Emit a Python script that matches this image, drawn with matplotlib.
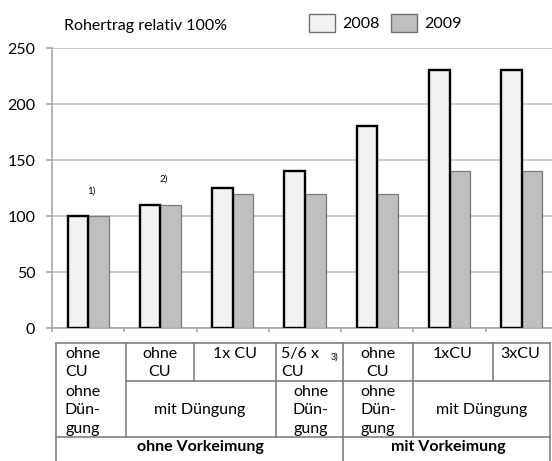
import matplotlib.pyplot as plt
import numpy as np
from matplotlib.patches import Patch

plt.rcParams['font.family'] = ['Lato', 'DejaVu Sans']

# Daten
rel_2008 = [100, 110, 125, 140, 180, 230, 230]
rel_2009 = [100, 110, 120, 120, 120, 140, 140]
years = ['2008', '2009']
notes = ['1)', '2)', '', '', '', '', '']
yticks = [0, 50, 100, 150, 200, 250]

row1 = ['ohne\nCU', 'ohne\nCU', '1x CU', '5/6 x\nCU', 'ohne\nCU', '1xCU', '3xCU']
row2 = ['ohne\nDün-\ngung', 'mit Düngung', 'ohne\nDün-\ngung', 'ohne\nDün-\ngung', 'mit Düngung']
row3 = ['ohne Vorkeimung', 'mit Vorkeimung']

W, H = 552, 461
fig = plt.figure(figsize=(W/100, H/100), dpi=100)

# Balkendiagramm
ax = fig.add_axes([52/W, 1-328/H, 506/W, 280/H])
x = np.arange(len(rel_2008))
w = 0.285
ax.bar(x + w/2, rel_2009, w, color='#bfbfbf', edgecolor='#7a7a7a', linewidth=0.9, zorder=3)
ax.bar(x - w/2, rel_2008, w, color='#f2f2f2', edgecolor='black', linewidth=1.7, zorder=4)

for i, n in enumerate(notes):
    if n:
        ax.annotate(n, (x[i], max(rel_2008[i], rel_2009[i])), xytext=(2, 15),
                    textcoords='offset points', ha='center', va='bottom', fontsize=7)

ax.set_xlim(-0.5, len(x) - 0.5)
ax.set_ylim(0, 250)
ax.set_yticks(yticks)
ax.set_xticks(np.arange(len(x) + 1) - 0.5)
ax.set_xticklabels([])
ax.yaxis.grid(True, color='#c4c4c4', linewidth=1.3, zorder=0)
ax.set_axisbelow(True)
for s in ['top', 'right']:
    ax.spines[s].set_visible(False)
for s in ['left', 'bottom']:
    ax.spines[s].set_color('#a6a6a6')
    ax.spines[s].set_linewidth(1.2)
ax.tick_params(axis='y', length=4, width=1.2, color='#a6a6a6', pad=8, labelsize=11.5)
ax.tick_params(axis='x', length=3, width=1.2, color='#a6a6a6')

# Titel und Legende
fig.text(64/W, 1-26/H, 'Rohertrag relativ 100%', va='center', fontsize=11.5)
handles = [Patch(facecolor='#f2f2f2', edgecolor='#707070'),
           Patch(facecolor='#bfbfbf', edgecolor='#707070')]
fig.legend(handles, years, loc='center left', bbox_to_anchor=(309/W, 1-23/H), ncol=2,
           frameon=False, fontsize=11.5, borderpad=0, borderaxespad=0,
           handlelength=1.65, handleheight=1.3, handletextpad=0.4, columnspacing=0.75)

# Tabelle unter dem Diagramm
tab = fig.add_axes([0, 0, 1, 1])
tab.set_xlim(0, W)
tab.set_ylim(H, 0)
tab.axis('off')
lc = dict(color='#808080', linewidth=1.2)
for y0, xa, xb in [(343, 56, 550), (381, 126, 550), (437, 56, 550)]:
    tab.plot([xa, xb], [y0, y0], **lc)
for x0, ya, yb in [(56, 343, 461), (126, 343, 437), (194, 343, 381), (276, 343, 437),
                   (343, 343, 461), (413, 343, 437), (493, 343, 381), (550, 343, 461)]:
    tab.plot([x0, x0], [ya, yb], **lc)

fs = 11.5
ls = 1.4
r1_pos = [(65, 'left'), (160, 'center'), (235, 'center'), (281, 'left'),
          (378, 'center'), (453, 'center'), (520, 'center')]
for t, (px, ha) in zip(row1, r1_pos):
    tab.text(px, 347, t, ha=ha, va='top', fontsize=fs, linespacing=ls)
tab.text(334, 357, '3)', ha='center', va='center', fontsize=6.5)

r2_pos = [(65, 'left', 'top'), (200, 'center', 'center'), (311, 'center', 'top'),
          (378, 'center', 'top'), (482, 'center', 'center')]
for t, (px, ha, va) in zip(row2, r2_pos):
    py = 385 if va == 'top' else 410
    tab.text(px, py, t, ha=ha, va=va, fontsize=fs, linespacing=ls)

for t, px in zip(row3, [200, 448]):
    tab.text(px, 447, t, ha='center', va='center', fontsize=fs, fontweight='bold')

fig.savefig('out.png', dpi=100)
